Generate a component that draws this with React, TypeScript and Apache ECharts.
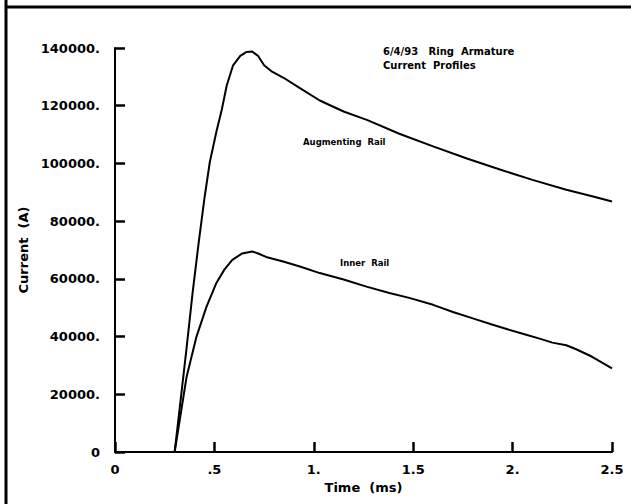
import React, { useEffect, useRef } from "react";
import * as echarts from "echarts";

const xTicks = [0, 0.5, 1, 1.5, 2, 2.5];
const xTickLabels = ["0", ".5", "1.", "1.5", "2.", "2.5"];
const yTicks = [0, 20000, 40000, 60000, 80000, 100000, 120000, 140000];
const yTickLabels = ["0", "20000.", "40000.", "60000.", "80000.", "100000.", "120000.", "140000."];

const augTime = [0.3, 0.33, 0.36, 0.39, 0.42, 0.45, 0.477, 0.51, 0.537, 0.562, 0.594, 0.63, 0.66, 0.69, 0.72, 0.75, 0.79, 0.85, 0.93, 1.03, 1.15, 1.27, 1.43, 1.6, 1.77, 1.94, 2.1, 2.27, 2.4, 2.5];
const augCurrent = [0, 18000, 36000, 55000, 72000, 88000, 100500, 111000, 118600, 127000, 134000, 137300, 138600, 138800, 137200, 134000, 131800, 129600, 126100, 121800, 118000, 115000, 110300, 105900, 101700, 97800, 94300, 90900, 88600, 86800];

const innerTime = [0.3, 0.33, 0.36, 0.41, 0.46, 0.51, 0.55, 0.59, 0.64, 0.69, 0.72, 0.76, 0.85, 0.93, 1.03, 1.15, 1.265, 1.38, 1.48, 1.6, 1.7, 1.8, 1.9, 1.97, 2.06, 2.14, 2.2, 2.27, 2.32, 2.4, 2.5];
const innerCurrent = [0, 13000, 26000, 40000, 50300, 58600, 63200, 66600, 68800, 69500, 68800, 67600, 65900, 64300, 62000, 59800, 57300, 55100, 53400, 51000, 48500, 46300, 44100, 42600, 40800, 39200, 37900, 37000, 35600, 33000, 29000];

const augData = augTime.map((t, i) => [t, augCurrent[i]]);
const innerData = innerTime.map((t, i) => [t, innerCurrent[i]]);

const FONT = "DejaVu Sans";

export default function App() {
  const ref = useRef<HTMLDivElement>(null);
  useEffect(() => {
    if (!ref.current) return;
    const chart = echarts.init(ref.current, undefined, { renderer: "svg" });
    chart.setOption({
      animation: false,
      backgroundColor: "#ffffff",
      grid: { left: 115, top: 48, width: 497, height: 404, containLabel: false },
      xAxis: {
        type: "value",
        min: 0,
        max: 2.5,
        interval: 0.5,
        name: "Time  (ms)",
        nameLocation: "middle",
        nameGap: 29,
        nameTextStyle: { color: "#000", fontFamily: FONT, fontSize: 13, fontWeight: "bold" },
        axisLine: { show: true, lineStyle: { color: "#000", width: 2 } },
        axisTick: { show: true, inside: true, length: 10, lineStyle: { color: "#000", width: 2.5 } },
        splitLine: { show: false },
        axisLabel: {
          color: "#000",
          fontFamily: FONT,
          fontSize: 13,
          fontWeight: "bold",
          margin: 11,
          formatter: (v: number) => {
            const i = xTicks.findIndex((t) => Math.abs(t - v) < 1e-6);
            return i >= 0 ? xTickLabels[i] : "";
          },
        },
      },
      yAxis: {
        type: "value",
        min: 0,
        max: 140000,
        interval: 20000,
        name: "Current  (A)",
        nameLocation: "middle",
        nameGap: 80,
        nameRotate: 90,
        nameTextStyle: { color: "#000", fontFamily: FONT, fontSize: 13, fontWeight: "bold" },
        axisLine: { show: true, lineStyle: { color: "#000", width: 2 } },
        axisTick: { show: true, inside: true, length: 10, lineStyle: { color: "#000", width: 2.5 } },
        splitLine: { show: false },
        axisLabel: {
          color: "#000",
          fontFamily: FONT,
          fontSize: 13,
          fontWeight: "bold",
          margin: 15,
          formatter: (v: number) => {
            const i = yTicks.findIndex((t) => Math.abs(t - v) < 1e-6);
            return i >= 0 ? yTickLabels[i] : "";
          },
        },
      },
      series: [
        {
          name: "Augmenting Rail",
          type: "line",
          data: augData,
          smooth: false,
          showSymbol: false,
          lineStyle: { color: "#000", width: 2, join: "round" },
        },
        {
          name: "Inner Rail",
          type: "line",
          data: innerData,
          smooth: false,
          showSymbol: false,
          lineStyle: { color: "#000", width: 2, join: "round" },
        },
      ],
      graphic: [
        { type: "line", shape: { x1: 6, y1: 0, x2: 6, y2: 504 }, style: { stroke: "#000", lineWidth: 3 } },
        { type: "line", shape: { x1: 5, y1: 7, x2: 631, y2: 7 }, style: { stroke: "#000", lineWidth: 3 } },
        {
          type: "text",
          left: 383,
          top: 46,
          style: { text: "6/4/93   Ring  Armature", fill: "#000", font: `bold 10px "${FONT}"` },
        },
        {
          type: "text",
          left: 383,
          top: 60,
          style: { text: "Current  Profiles", fill: "#000", font: `bold 10px "${FONT}"` },
        },
        {
          type: "text",
          left: 303,
          top: 137,
          style: { text: "Augmenting  Rail", fill: "#000", font: `bold 8.5px "${FONT}"` },
        },
        {
          type: "text",
          left: 340,
          top: 258,
          style: { text: "Inner  Rail", fill: "#000", font: `bold 8.5px "${FONT}"` },
        },
      ],
    });
    return () => chart.dispose();
  }, []);
  return (
    <div
      ref={ref}
      style={{ position: "fixed", left: 0, top: 0, width: 631, height: 504, background: "#fff" }}
    />
  );
}
